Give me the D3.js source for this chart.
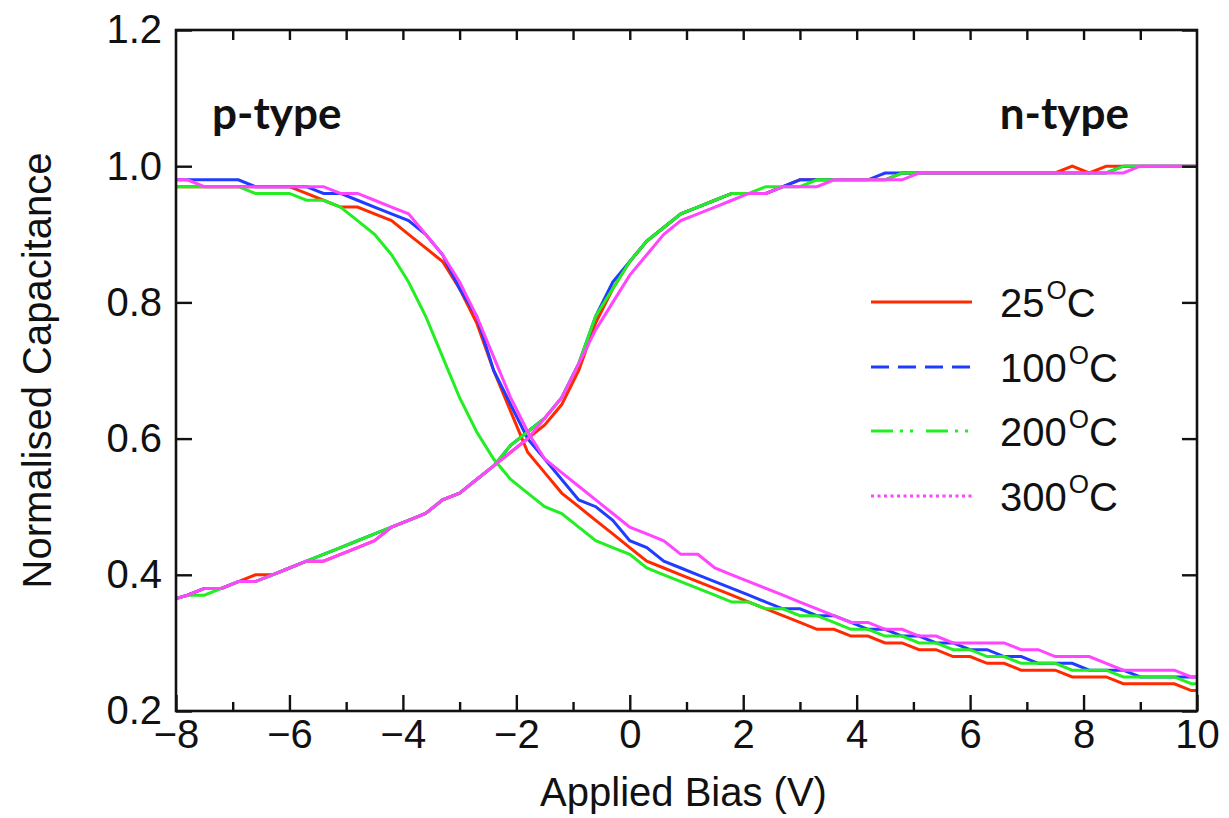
<!DOCTYPE html>
<html><head><meta charset="utf-8">
<script src="https://cdn.jsdelivr.net/npm/d3@7"></script>
<style>
body{margin:0;background:#fff}
svg{display:block}
text{font-family:"Liberation Sans",Arial,Helvetica,sans-serif;fill:#111}
</style>
</head><body><svg id="chart" width="1229" height="818"></svg>
<script>
// Applied bias sample points (V)
const bias = [-8,-7.8,-7.5,-7.2,-6.9,-6.6,-6.3,-6.0,-5.7,-5.4,-5.1,-4.8,-4.5,-4.2,-3.9,-3.6,-3.3,-3.0,-2.7,-2.4,-2.1,-1.8,-1.5,-1.2,-0.9,-0.6,-0.3,0,0.3,0.6,0.9,1.2,1.5,1.8,2.1,2.4,2.7,3.0,3.3,3.6,3.9,4.2,4.5,4.8,5.1,5.4,5.7,6.0,6.3,6.6,6.9,7.2,7.5,7.8,8.1,8.4,8.7,9.0,9.3,9.6,9.9,10];

// p-type curves (normalised capacitance)
const pType25  = [0.97,0.97,0.97,0.97,0.97,0.97,0.97,0.97,0.96,0.95,0.94,0.94,0.93,0.92,0.90,0.88,0.86,0.82,0.77,0.70,0.64,0.58,0.55,0.52,0.50,0.48,0.46,0.44,0.42,0.41,0.40,0.39,0.38,0.37,0.36,0.35,0.34,0.33,0.32,0.32,0.31,0.31,0.30,0.30,0.29,0.29,0.28,0.28,0.27,0.27,0.26,0.26,0.26,0.25,0.25,0.25,0.24,0.24,0.24,0.24,0.23,0.23];
const pType100 = [0.98,0.98,0.98,0.98,0.98,0.97,0.97,0.97,0.97,0.96,0.96,0.95,0.94,0.93,0.92,0.90,0.87,0.82,0.78,0.70,0.65,0.60,0.57,0.54,0.51,0.50,0.48,0.45,0.44,0.42,0.41,0.40,0.39,0.38,0.37,0.36,0.35,0.35,0.34,0.34,0.33,0.32,0.32,0.31,0.31,0.30,0.30,0.29,0.29,0.28,0.28,0.27,0.27,0.27,0.26,0.26,0.26,0.25,0.25,0.25,0.25,0.25];
const pType200 = [0.97,0.97,0.97,0.97,0.97,0.96,0.96,0.96,0.95,0.95,0.94,0.92,0.90,0.87,0.83,0.78,0.72,0.66,0.61,0.57,0.54,0.52,0.50,0.49,0.47,0.45,0.44,0.43,0.41,0.40,0.39,0.38,0.37,0.36,0.36,0.35,0.35,0.34,0.34,0.33,0.32,0.32,0.31,0.31,0.30,0.30,0.29,0.29,0.28,0.28,0.27,0.27,0.27,0.26,0.26,0.26,0.25,0.25,0.25,0.25,0.24,0.24];
const pType300 = [0.98,0.98,0.97,0.97,0.97,0.97,0.97,0.97,0.97,0.97,0.96,0.96,0.95,0.94,0.93,0.90,0.87,0.83,0.78,0.72,0.66,0.61,0.57,0.55,0.53,0.51,0.49,0.47,0.46,0.45,0.43,0.43,0.41,0.40,0.39,0.38,0.37,0.36,0.35,0.34,0.33,0.33,0.32,0.32,0.31,0.31,0.30,0.30,0.30,0.30,0.29,0.29,0.28,0.28,0.28,0.27,0.26,0.26,0.26,0.26,0.25,0.25];

// n-type curves (normalised capacitance)
const nType25  = [0.365,0.37,0.38,0.38,0.39,0.40,0.40,0.41,0.42,0.42,0.43,0.44,0.45,0.47,0.48,0.49,0.51,0.52,0.54,0.56,0.58,0.60,0.62,0.65,0.70,0.77,0.82,0.86,0.89,0.91,0.93,0.94,0.95,0.96,0.96,0.96,0.97,0.98,0.98,0.98,0.98,0.98,0.98,0.99,0.99,0.99,0.99,0.99,0.99,0.99,0.99,0.99,0.99,1.00,0.99,1.00,1.00,1.00,1.00,1.00,1.00,1.00];
const nType100 = [0.365,0.37,0.38,0.38,0.39,0.39,0.40,0.41,0.42,0.43,0.44,0.45,0.46,0.47,0.48,0.49,0.51,0.52,0.54,0.56,0.59,0.61,0.63,0.66,0.71,0.78,0.83,0.86,0.89,0.91,0.93,0.94,0.95,0.96,0.96,0.96,0.97,0.98,0.98,0.98,0.98,0.98,0.99,0.99,0.99,0.99,0.99,0.99,0.99,0.99,0.99,0.99,0.99,0.99,0.99,0.99,1.00,1.00,1.00,1.00,1.00,1.00];
const nType200 = [0.365,0.37,0.37,0.38,0.39,0.39,0.40,0.41,0.42,0.43,0.44,0.45,0.46,0.47,0.48,0.49,0.51,0.52,0.54,0.56,0.59,0.61,0.63,0.66,0.71,0.78,0.82,0.86,0.89,0.91,0.93,0.94,0.95,0.96,0.96,0.97,0.97,0.97,0.98,0.98,0.98,0.98,0.98,0.99,0.99,0.99,0.99,0.99,0.99,0.99,0.99,0.99,0.99,0.99,0.99,0.99,1.00,1.00,1.00,1.00,1.00,1.00];
const nType300 = [0.365,0.37,0.38,0.38,0.39,0.39,0.40,0.41,0.42,0.42,0.43,0.44,0.45,0.47,0.48,0.49,0.51,0.52,0.54,0.56,0.58,0.60,0.63,0.66,0.71,0.76,0.80,0.84,0.87,0.90,0.92,0.93,0.94,0.95,0.96,0.96,0.97,0.97,0.97,0.98,0.98,0.98,0.98,0.98,0.99,0.99,0.99,0.99,0.99,0.99,0.99,0.99,0.99,0.99,0.99,0.99,0.99,1.00,1.00,1.00,1.00,1.00];

const temperatures = ["25", "100", "200", "300"];
const seriesColors = ["#ff2a00", "#1f3cff", "#22ee22", "#ff45ff"];
const legendDash = [null, "18,9", "22,7,3,7,3,13", "3,3.5"];

const xMajorTicks = [-8,-6,-4,-2,0,2,4,6,8,10];
const xMinorTicks = [-7,-5,-3,-1,1,3,5,7,9];
const xTopTicks = [-7,-6,-5,-4,-3,-2,-1,0,1,2,3,4,5,6,7,8,9];
const yTicks = [0.2,0.4,0.6,0.8,1.0,1.2];

const pSeries = [pType25, pType100, pType200, pType300];
const nSeries = [nType25, nType100, nType200, nType300];

const svg = d3.select("#chart");
const L = 176, R = 1197, T = 30, B = 711;
const x = d3.scaleLinear().domain([-8, 10]).range([L, R]);
const y = d3.scaleLinear().domain([0.2, 1.2]).range([B, T]);

svg.append("rect").attr("width", 1229).attr("height", 818).attr("fill", "#fff");

svg.append("defs").append("clipPath").attr("id", "plotclip")
  .append("rect").attr("x", L).attr("y", T).attr("width", R - L).attr("height", B - T);

// curves
const line = d3.line().x(d => x(d[0])).y(d => y(d[1]));
const curves = svg.append("g").attr("clip-path", "url(#plotclip)");
temperatures.forEach((t, i) => {
  [pSeries[i], nSeries[i]].forEach(vals => {
    curves.append("path")
      .datum(bias.map((b, k) => [b, vals[k]]))
      .attr("d", line)
      .attr("fill", "none")
      .attr("stroke", seriesColors[i])
      .attr("stroke-width", 3)
      .attr("stroke-linejoin", "miter");
  });
});

// axes
const tickStyle = g => {
  g.select(".domain").remove();
  g.selectAll(".tick line").attr("stroke", "#111").attr("stroke-width", 2.4);
  g.selectAll(".tick text").attr("font-size", 40).attr("fill", "#111")
    .attr("font-family", '"Liberation Sans",Arial,Helvetica,sans-serif');
};
svg.append("g").attr("transform", `translate(0,${B})`)
  .call(d3.axisBottom(x).tickValues(xMajorTicks).tickSize(-16).tickPadding(9).tickFormat(d3.format("d")))
  .call(tickStyle);
svg.append("g").attr("transform", `translate(0,${B})`)
  .call(d3.axisBottom(x).tickValues(xMinorTicks).tickSize(-9).tickFormat(""))
  .call(tickStyle);
svg.append("g").attr("transform", `translate(0,${T})`)
  .call(d3.axisTop(x).tickValues(xTopTicks).tickSize(-10).tickFormat(""))
  .call(tickStyle);
svg.append("g").attr("transform", `translate(${L},0)`)
  .call(d3.axisLeft(y).tickValues(yTicks).tickSize(-16).tickPadding(14).tickFormat(d3.format(".1f")))
  .call(tickStyle);
svg.append("g").attr("transform", `translate(${R},0)`)
  .call(d3.axisRight(y).tickValues(yTicks).tickSize(-15).tickFormat(""))
  .call(tickStyle);

// frame
svg.append("rect").attr("x", L).attr("y", T).attr("width", R - L).attr("height", B - T)
  .attr("fill", "none").attr("stroke", "#111").attr("stroke-width", 2.6);

// axis titles
svg.append("text").attr("x", (L + R) / 2 - 3).attr("y", 806).attr("text-anchor", "middle")
  .attr("font-size", 40).text("Applied Bias (V)");
svg.append("text").attr("transform", `translate(51,${(T + B) / 2}) rotate(-90)`)
  .attr("text-anchor", "middle").attr("font-size", 40).text("Normalised Capacitance");

// annotations
svg.append("text").attr("x", 212).attr("y", 129).attr("font-size", 44).attr("font-weight", "bold")
  .style("font-family", "Lato,'Open Sans',sans-serif").text("p-type");
svg.append("text").attr("x", 1129).attr("y", 129).attr("text-anchor", "end").attr("font-size", 44).attr("font-weight", "bold")
  .style("font-family", "Lato,'Open Sans',sans-serif").text("n-type");

// legend
const legendY = [302, 367, 431, 496];
const legend = svg.append("g");
temperatures.forEach((t, i) => {
  legend.append("line").attr("x1", 871).attr("x2", 972)
    .attr("y1", legendY[i]).attr("y2", legendY[i])
    .attr("stroke", seriesColors[i]).attr("stroke-width", 2.8)
    .attr("stroke-dasharray", legendDash[i]);
  const tx = legend.append("text").attr("x", 1000).attr("y", legendY[i] + 15).attr("font-size", 40);
  tx.append("tspan").text(t);
  tx.append("tspan").attr("font-size", 26).attr("dy", -18).attr("dx", 2).text("O");
  tx.append("tspan").attr("dy", 18).text("C");
});
</script>
</body></html>
